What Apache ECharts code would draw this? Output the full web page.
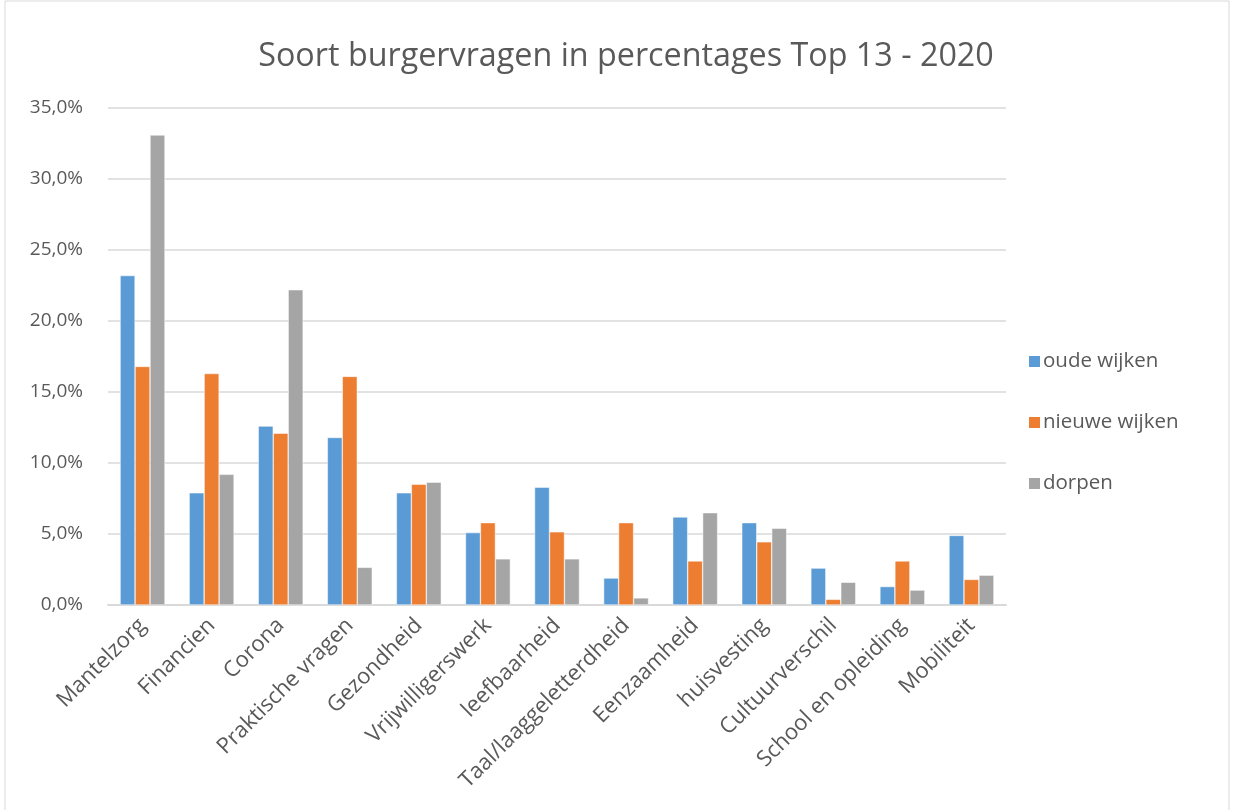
<!DOCTYPE html>
<html><head><meta charset="utf-8">
<script src="https://cdn.jsdelivr.net/npm/echarts@6/dist/echarts.min.js"></script>
<style>html,body{margin:0;padding:0;background:#fff}#c{width:1235px;height:810px}</style>
</head><body><div id="c"></div>
<script>
const categories = ["Mantelzorg","Financien","Corona","Praktische vragen","Gezondheid","Vrijwilligerswerk","leefbaarheid","Taal/laaggeletterdheid","Eenzaamheid","huisvesting","Cultuurverschil","School en opleiding","Mobiliteit"];
const oudeWijken = [23.2, 7.9, 12.6, 11.8, 7.9, 5.1, 8.3, 1.9, 6.2, 5.8, 2.6, 1.3, 4.9];
const nieuweWijken = [16.8, 16.3, 12.1, 16.1, 8.5, 5.8, 5.15, 5.8, 3.1, 4.45, 0.4, 3.1, 1.8];
const dorpen = [33.1, 9.2, 22.2, 2.65, 8.65, 3.25, 3.25, 0.5, 6.5, 5.4, 1.6, 1.05, 2.1];
const seriesNames = ["oude wijken","nieuwe wijken","dorpen"];
const colors = ["#5b9bd5","#ed7d31","#a5a5a5"];
const title = "Soort burgervragen in percentages Top 13 - 2020";

const chart = echarts.init(document.getElementById('c'));
const font = "'Open Sans', sans-serif";
chart.setOption({
  animation: false,
  graphic: [{type:'rect', shape:{x:5,y:1,width:1224,height:812}, style:{fill:'none', stroke:'#d9d9d9', lineWidth:1}}],
  title: {text: title, left: 621, top: 36, textAlign: 'center',
    textStyle: {fontFamily: font, fontSize: 32.3, fontWeight: 'normal', color: '#595959'}},
  legend: {orient: 'vertical', left: 1022, top: 346, itemGap: 40, itemWidth: 13, itemHeight: 13,
    icon: 'rect', data: seriesNames,
    textStyle: {fontFamily: font, fontSize: 20.5, color: '#595959', padding:[0,0,0,-3]}},
  grid: {left: 108, right: 229, top: 108, bottom: 205, containLabel: false},
  xAxis: {type: 'category', data: categories,
    axisLine: {lineStyle: {color: '#d9d9d9', width: 2}}, axisTick: {show: false},
    axisLabel: {rotate: 45, interval: 0, fontFamily: font, fontSize: 22, color: '#595959', margin: 17}},
  yAxis: {type: 'value', min: 0, max: 35, interval: 5,
    axisLine: {show: false}, axisTick: {show: false},
    splitLine: {lineStyle: {color: '#d9d9d9', width: 1.5}},
    axisLabel: {fontFamily: font, fontSize: 19, color: '#595959', margin: 25,
      formatter: v => v.toFixed(1).replace('.', ',') + '%'}},
  series: [oudeWijken, nieuweWijken, dorpen].map((d, i) => ({
    name: seriesNames[i], type: 'bar', data: d, barGap: '0%', barCategoryGap: '35%',
    itemStyle: {color: colors[i], borderColor: '#fff', borderWidth: 0.5}
  }))
});
</script></body></html>
